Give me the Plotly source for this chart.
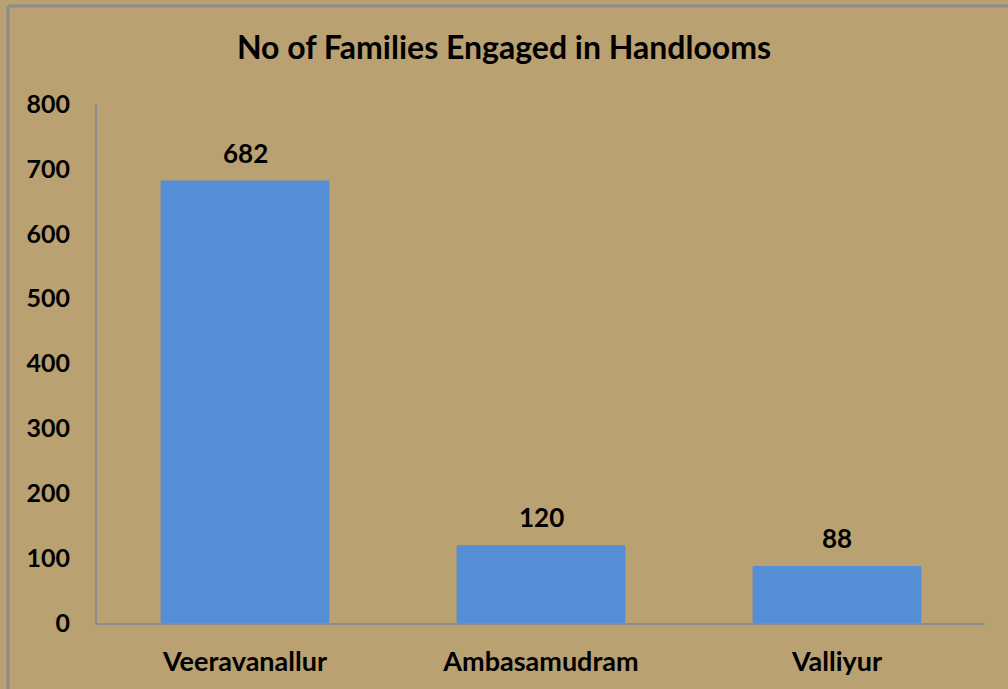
import plotly.graph_objects as go

categories = ["Veeravanallur", "Ambasamudram", "Valliyur"]
families = [682, 120, 88]
y_ticks = [0, 100, 200, 300, 400, 500, 600, 700, 800]

FONT = "Lato"
W, H = 1008, 689
L, R, T, B = 97, 23, 104, 66
pw, ph = W - L - R, H - T - B

fig = go.Figure()
fig.add_trace(go.Bar(
    x=categories, y=families,
    marker=dict(color="#558ED5", line=dict(width=0)),
    cliponaxis=False,
    hoverinfo="x+y",
))

for c, v in zip(categories, families):
    fig.add_annotation(x=c, y=v, text=str(v), showarrow=False,
                       xanchor="center", yanchor="bottom", yshift=10,
                       font=dict(family=FONT, size=26, color="#000000", weight="bold"))

fig.update_layout(
    width=W, height=H,
    margin=dict(l=L, r=R, t=T, b=B),
    paper_bgcolor="#B9A171",
    plot_bgcolor="rgba(0,0,0,0)",
    bargap=0.43,
    showlegend=False,
    title=dict(text="No of Families Engaged in Handlooms",
               x=0.5, xanchor="center", y=1 - 48 / H, yanchor="middle",
               font=dict(family=FONT, size=32, color="#000000", weight="bold")),
    font=dict(family=FONT, color="#000000"),
    xaxis=dict(showgrid=False, showline=True, linecolor="#8C8C8C", linewidth=2,
               ticks="", automargin=False,
               tickfont=dict(family=FONT, size=27, color="#000000", weight="bold"),
               ticklabelstandoff=14),
    yaxis=dict(range=[0, 800], tickvals=y_ticks, showgrid=False, automargin=False,
               showline=True, linecolor="#8C8C8C", linewidth=2, ticks="",
               tickfont=dict(family=FONT, size=25, color="#000000", weight="bold"),
               ticklabelstandoff=20, zeroline=False),
)

# outer chart frame (top and left edges visible in reference)
fig.add_shape(type="line", xref="paper", yref="paper",
              x0=(8 - L) / pw, x1=(W - L) / pw + 0.01,
              y0=(H - B - 6) / ph, y1=(H - B - 6) / ph,
              line=dict(color="#8C8C8C", width=3))
fig.add_shape(type="line", xref="paper", yref="paper",
              x0=(8 - L) / pw, x1=(8 - L) / pw,
              y0=(H - B - 6) / ph, y1=-B / ph - 0.01,
              line=dict(color="#8C8C8C", width=3))

fig.write_html("out.html", config={"displayModeBar": False},
               post_script="document.body.style.margin='0px';document.body.style.overflow='hidden';")
